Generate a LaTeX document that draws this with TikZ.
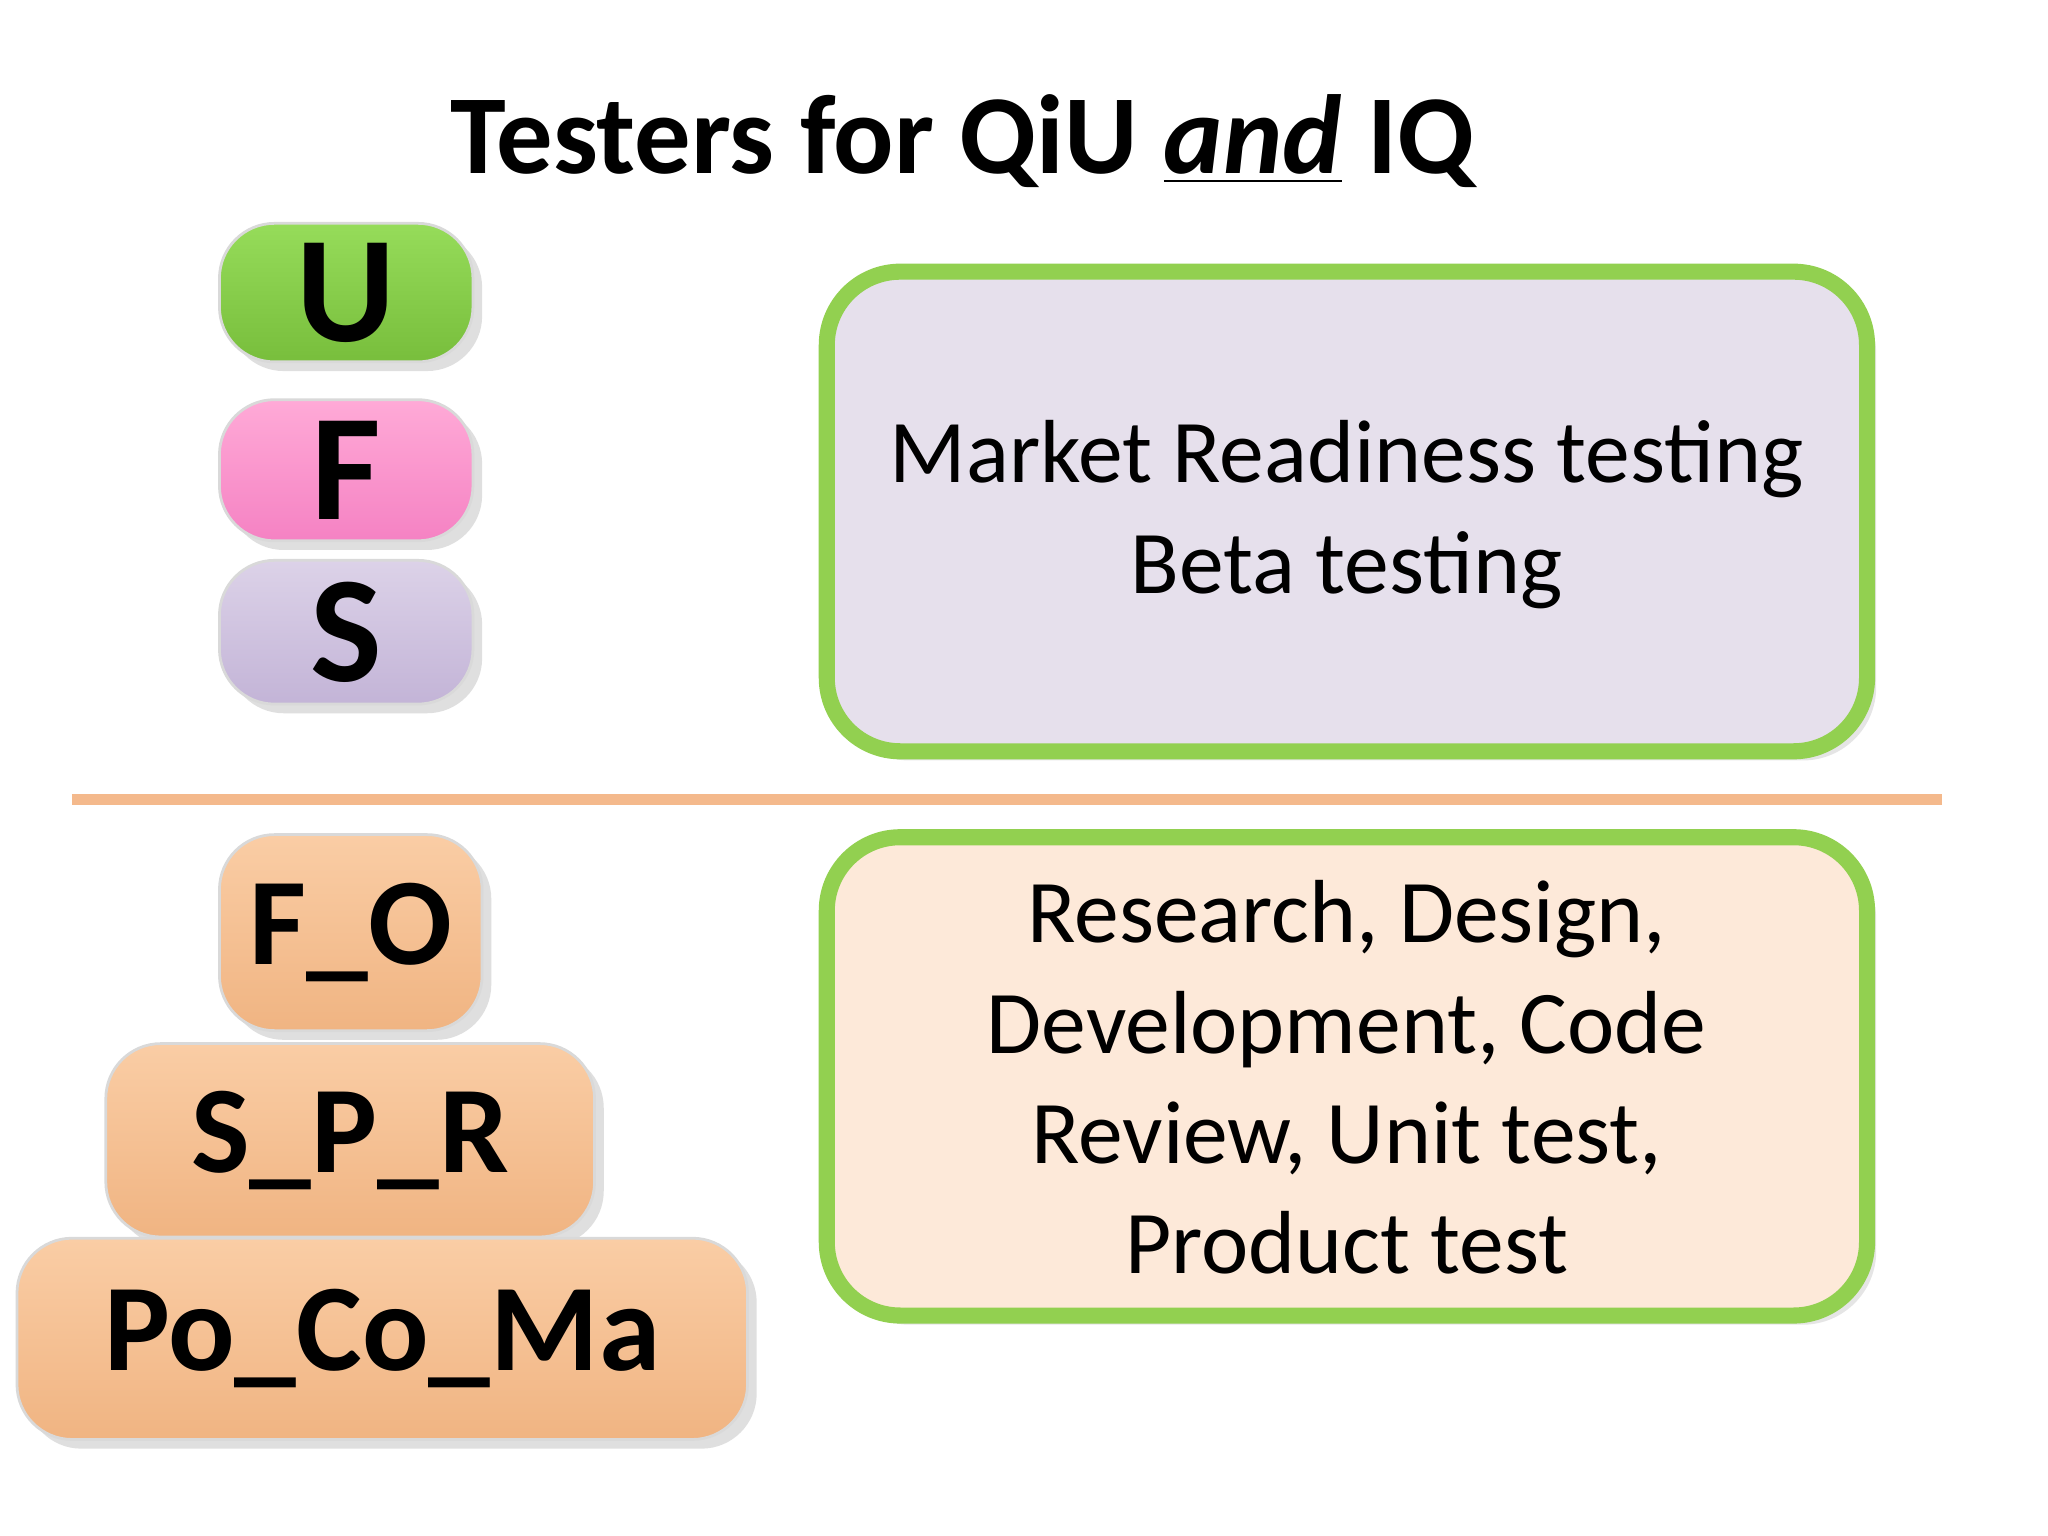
\documentclass[tikz,border=0pt]{standalone}
\usepackage{fontspec}
\setmainfont{Carlito}
\usetikzlibrary{shadows}
\begin{document}
\begin{tikzpicture}[x=0.01cm,y=-0.01cm,
 tile/.style={rounded corners=12pt,draw=black!15,line width=0.6pt,outer sep=0pt,drop shadow={opacity=0.25,shadow xshift=2pt,shadow yshift=-2pt},anchor=north west,inner sep=0pt,font=\fontsize{27}{30}\selectfont\bfseries,top color={rgb,255:red,250;green,205;blue,165},bottom color={rgb,255:red,240;green,180;blue,130}},
 panel/.style={rounded corners=16pt,draw={rgb,255:red,146;green,208;blue,80},line width=3.5pt,outer sep=0pt,anchor=north west,inner sep=0pt,drop shadow={opacity=0.2,shadow xshift=2pt,shadow yshift=-2pt}},
 ptext/.style={font=\fontsize{19.5}{24}\selectfont,align=center}]
\useasboundingbox (0,0) rectangle (1568,1176);
\fill[white] (0,0) rectangle (1568,1176);
\node[font=\fontsize{24.5}{28}\selectfont\bfseries] (title) at (737,108) {Testers for QiU \underline{\itshape and} IQ};
\node[tile,font=\fontsize{33}{36}\selectfont\bfseries,top color={rgb,255:red,150;green,220;blue,90},bottom color={rgb,255:red,120;green,190;blue,60},minimum width=1.94cm,minimum height=1.06cm] (u) at (168,171) {U};
\node[tile,font=\fontsize{33}{36}\selectfont\bfseries,top color={rgb,255:red,255;green,170;blue,215},bottom color={rgb,255:red,245;green,130;blue,195},minimum width=1.94cm,minimum height=1.08cm] (f) at (168,306) {F};
\node[tile,font=\fontsize{33}{36}\selectfont\bfseries,top color={rgb,255:red,220;green,210;blue,232},bottom color={rgb,255:red,195;green,180;blue,215},minimum width=1.94cm,minimum height=1.1cm] (s) at (168,429) {S};
\node[panel,fill={rgb,255:red,230;green,224;blue,236},minimum width=7.96cm,minimum height=3.67cm] (top) at (633,208) {};
\node[ptext] (toptext) at (1031,394) {Market Readiness testing\\Beta testing};
\draw[line width=2.4pt,color={rgb,255:red,244;green,185;blue,140}] (55,612) coordinate (l1) -- (1487,612) coordinate (l2);
\node[tile,minimum width=2.01cm,minimum height=1.5cm] (fo) at (168,639) {F\_O};
\node[tile,minimum width=3.74cm,minimum height=1.48cm] (spr) at (81,799) {S\_P\_R};
\node[tile,minimum width=5.59cm,minimum height=1.54cm] (pcm) at (13,948) {Po\_Co\_Ma};
\node[panel,fill={rgb,255:red,253;green,233;blue,217},minimum width=7.96cm,minimum height=3.66cm] (bot) at (633,641) {};
\node[ptext] (bottext) at (1031,825) {Research, Design,\\Development, Code\\Review, Unit test,\\Product test};
\end{tikzpicture}
\end{document}
